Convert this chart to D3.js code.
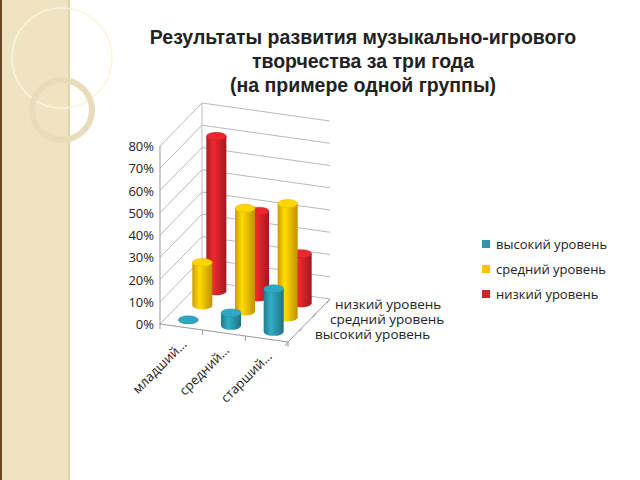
<!DOCTYPE html>
<html><head><meta charset="utf-8">
<script src="https://cdn.jsdelivr.net/npm/d3@7"></script>
<style>body{margin:0;background:#fff}svg{display:block}</style>
</head><body>
<script>
const categories = ["младший…", "средний…", "старший…"];
const seriesNames = ["высокий уровень", "средний уровень", "низкий уровень"];
const seriesColors = ["#2b97ad", "#ffc000", "#d2232a"];
const vHigh = [0, 0.06, 0.20];
const vMid = [0.20, 0.48, 0.53];
const vLow = [0.72, 0.40, 0.23];
const values = [vHigh, vMid, vLow];
const yTicks = [0, 0.1, 0.2, 0.3, 0.4, 0.5, 0.6, 0.7, 0.8];

const W = 640, H = 480;
const svg = d3.select("body").append("svg").attr("width", W).attr("height", H)
  .style("font-family", "Open Sans, Liberation Sans, sans-serif");

const defs = svg.append("defs");
svg.append("rect").attr("width", 70).attr("height", H).attr("fill", "#f0e3c2");
svg.append("rect").attr("width", 2).attr("height", H).attr("fill", "#6b4a2a");
svg.append("rect").attr("x", 68).attr("width", 2).attr("height", H).attr("fill", "#e0d2ad");
svg.append("circle").attr("cx", 62).attr("cy", 58).attr("r", 50).attr("fill", "none").attr("stroke", "#fbf3dc").attr("stroke-width", 1.5);
svg.append("circle").attr("cx", 62).attr("cy", 110).attr("r", 30).attr("fill", "none").attr("stroke", "#e9dcba").attr("stroke-width", 6);

const title = ["Результаты развития музыкально-игрового", "творчества за три года", "(на примере одной группы)"];
svg.append("g").selectAll("text").data(title).join("text")
  .attr("x", 363).attr("y", (d, i) => 44 + i * 24).attr("text-anchor", "middle")
  .attr("font-size", 19.5).attr("font-weight", "bold").attr("fill", "#222")
  .attr("font-family", "Liberation Sans, Arial, sans-serif").text(d => d);

const origin = [160, 324];
const catX = d3.scaleLinear().domain([0, 3]).range([0, 128]);
const catY = d3.scaleLinear().domain([0, 3]).range([0, 18]);
const depX = d3.scaleLinear().domain([0, 3]).range([0, 42]);
const depY = d3.scaleLinear().domain([0, 3]).range([0, -43]);
const valAxis = d3.scaleLinear().domain([0, 0.8]).range([0, 178]);
const valBar = d3.scaleLinear().domain([0, 0.8]).range([0, 172]);
function P(c, d, v, s) { s = s || valAxis;
  return [origin[0] + catX(c) + depX(d), origin[1] + catY(c) + depY(d) - s(v)]; }

const g = svg.append("g");
yTicks.forEach(t => {
  const a = P(0, 0, t), b = P(0, 3, t), c = P(3, 3, t);
  g.append("path").attr("d", d3.line()([a, b, c])).attr("fill", "none").attr("stroke", "#b8b8b8").attr("stroke-width", 1);
});
g.append("path").attr("d", d3.line()([P(0,0,0.8), P(0,0,0), P(3,0,0), P(3,3,0)])).attr("fill", "none").attr("stroke", "#999");
g.append("path").attr("d", d3.line()([P(0,3,0), P(0,3,0.8)])).attr("fill", "none").attr("stroke", "#bbb");
[0,1,2,3].forEach(i => { const p = P(i, 0, 0);
  g.append("line").attr("x1", p[0]).attr("y1", p[1]).attr("x2", p[0]).attr("y2", p[1] + 5).attr("stroke", "#999"); });
[0,1,2,3].forEach(i => { const p = P(3, i, 0);
  g.append("line").attr("x1", p[0]).attr("y1", p[1]).attr("x2", p[0]-3).attr("y2", p[1] + 4).attr("stroke", "#999"); });
yTicks.forEach(t => { const p = P(0, 0, t);
  g.append("text").attr("x", p[0] - 6).attr("y", p[1] + 5).attr("text-anchor", "end")
   .attr("font-size", 13).attr("fill", "#222").text(d3.format(".0%")(t)); });
categories.forEach((c, i) => { const p = P(i + 0.5, 0, 0);
  g.append("text").attr("transform", `translate(${p[0] + 6},${p[1] + 18}) rotate(-45)`)
   .attr("text-anchor", "end").attr("font-size", 13).attr("fill", "#222").text(c); });
const depthLabelPos = [[315, 339], [330, 324], [335, 309]];
seriesNames.forEach((s, j) => {
  g.append("text").attr("x", depthLabelPos[j][0]).attr("y", depthLabelPos[j][1])
   .attr("font-size", 13.5).attr("fill", "#222").text(s); });

seriesColors.forEach((col, j) => {
  const gr = defs.append("linearGradient").attr("id", "gr" + j);
  const c = d3.color(col);
  gr.append("stop").attr("offset", "0%").attr("stop-color", c.darker(0.6));
  gr.append("stop").attr("offset", "35%").attr("stop-color", c.brighter(0.4));
  gr.append("stop").attr("offset", "100%").attr("stop-color", c.darker(0.8));
});
const rx = 10, ry = 4;
for (let j = 2; j >= 0; j--) {
  for (let i = 0; i < 3; i++) {
    const v = values[j][i];
    const b = P(i + 0.5, j + 0.5, 0), t = P(i + 0.5, j + 0.5, v, valBar);
    const col = seriesColors[j];
    const cg = g.append("g");
    cg.append("path").attr("d", `M${b[0]-rx},${t[1]} L${b[0]-rx},${b[1]} A${rx},${ry} 0 0 0 ${b[0]+rx},${b[1]} L${b[0]+rx},${t[1]} Z`)
      .attr("fill", `url(#gr${j})`);
    cg.append("ellipse").attr("cx", t[0]).attr("cy", t[1]).attr("rx", rx).attr("ry", ry)
      .attr("fill", d3.color(col).brighter(0.3)).attr("stroke", d3.color(col).darker(0.3)).attr("stroke-width", 0.5);
  }
}
const lg = svg.append("g");
seriesNames.forEach((s, j) => {
  lg.append("rect").attr("x", 482).attr("y", 240 + j * 25).attr("width", 8).attr("height", 8).attr("fill", seriesColors[j]);
  lg.append("text").attr("x", 496).attr("y", 249 + j * 25).attr("font-size", 13).attr("fill", "#222").text(s);
});
</script>
</body></html>
